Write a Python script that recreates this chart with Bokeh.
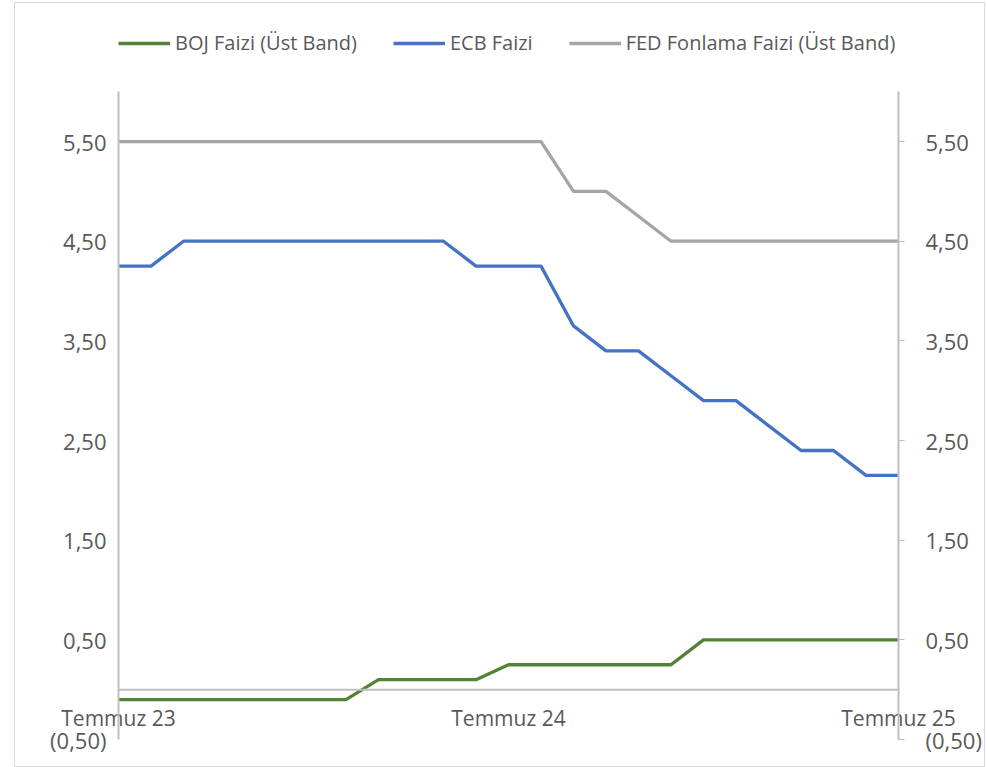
from bokeh.plotting import figure
from bokeh.models import (LinearAxis, FixedTicker, Span, Legend, LegendItem,
                          ColumnDataSource, Range1d)
from bokeh.embed import file_html
from bokeh.resources import INLINE

# ---- data -------------------------------------------------------------
months = ["2023-07", "2023-08", "2023-09", "2023-10", "2023-11", "2023-12",
          "2024-01", "2024-02", "2024-03", "2024-04", "2024-05", "2024-06",
          "2024-07", "2024-08", "2024-09", "2024-10", "2024-11", "2024-12",
          "2025-01", "2025-02", "2025-03", "2025-04", "2025-05", "2025-06",
          "2025-07"]
boj = [-0.10, -0.10, -0.10, -0.10, -0.10, -0.10, -0.10, -0.10,
       0.10, 0.10, 0.10, 0.10,
       0.25, 0.25, 0.25, 0.25, 0.25, 0.25,
       0.50, 0.50, 0.50, 0.50, 0.50, 0.50, 0.50]
ecb = [4.25, 4.25, 4.50, 4.50, 4.50, 4.50, 4.50, 4.50, 4.50, 4.50, 4.50,
       4.25, 4.25, 4.25, 3.65, 3.40, 3.40, 3.15, 2.90, 2.90, 2.65, 2.40,
       2.40, 2.15, 2.15]
fed = [5.50, 5.50, 5.50, 5.50, 5.50, 5.50, 5.50, 5.50, 5.50, 5.50, 5.50,
       5.50, 5.50, 5.50, 5.00, 5.00, 4.75, 4.50, 4.50, 4.50, 4.50, 4.50,
       4.50, 4.50, 4.50]
series_names = ["BOJ Faizi (Üst Band)", "ECB Faizi", "FED Fonlama Faizi (Üst Band)"]
x_tick_months = ["2023-07", "2024-07", "2025-07"]
x_tick_labels = ["Temmuz 23", "Temmuz 24", "Temmuz 25"]
y_ticks = [-0.5, 0.5, 1.5, 2.5, 3.5, 4.5, 5.5]
y_tick_labels = ["(0,50)", "0,50", "1,50", "2,50", "3,50", "4,50", "5,50"]
y_min, y_max = -0.5, 6.0

# ---- styling ----------------------------------------------------------
FONT = "Open Sans"
TXT = "#595959"
AXC = "#BFBFBF"
colors = ["#548235", "#4472C4", "#A5A5A5"]

# plot area: axes span 646 px vertically; 88 px of headroom above for legend
AXIS_PX = 646
HEAD_PX = 88
y_top = y_max + HEAD_PX * (y_max - y_min) / AXIS_PX

x = list(range(len(months)))
src = ColumnDataSource(dict(x=x, boj=boj, ecb=ecb, fed=fed))

p = figure(width=971, height=765, output_backend="svg", toolbar_location=None,
           x_range=Range1d(0, len(months) - 1), y_range=Range1d(y_min, y_top),
           x_axis_location=None, y_axis_location=None,
           min_border_left=103, min_border_right=88,
           min_border_top=0, min_border_bottom=29)
p.outline_line_color = None
p.grid.visible = False
p.styles = {"border": "1px solid #D9D9D9", "box-sizing": "border-box",
            "margin-left": "14px", "margin-top": "2px"}

p.add_layout(Span(location=0, dimension="width", line_color=AXC, line_width=2))

renderers = []
for key, col in zip(["boj", "ecb", "fed"], colors):
    r = p.line("x", key, source=src, line_color=col, line_width=3.3,
               line_join="round")
    renderers.append(r)

overrides = {t: l for t, l in zip(y_ticks, y_tick_labels)}


def y_axis(standoff, tick_out):
    ax = LinearAxis(ticker=FixedTicker(ticks=y_ticks), bounds=(y_min, y_max))
    ax.major_label_overrides = overrides
    ax.axis_line_color = AXC
    ax.axis_line_width = 2
    ax.major_tick_line_color = AXC if tick_out else None
    ax.major_tick_line_width = 1
    ax.major_tick_out = tick_out
    ax.major_tick_in = 0
    ax.minor_tick_line_color = None
    ax.major_label_standoff = standoff
    ax.major_label_text_font = FONT
    ax.major_label_text_font_size = "22px"
    ax.major_label_text_color = TXT
    return ax


p.add_layout(y_axis(12, 0), "left")
p.add_layout(y_axis(21, 6), "right")

# category axis: labels lifted up to sit just below the zero line
tick_x = [months.index(m) for m in x_tick_months]
xa = LinearAxis(ticker=FixedTicker(ticks=tick_x))
xa.major_label_overrides = {t: l for t, l in zip(tick_x, x_tick_labels)}
xa.axis_line_color = None
xa.major_tick_line_color = None
xa.major_tick_out = 0
xa.major_tick_in = 0
xa.minor_tick_line_color = None
xa.major_label_standoff = -36
xa.major_label_text_font = FONT
xa.major_label_text_font_size = "21px"
xa.major_label_text_color = TXT
p.add_layout(xa, "below")

legend = Legend(items=[LegendItem(label=n, renderers=[r])
                       for n, r in zip(series_names, renderers)],
                orientation="horizontal", location=(0, 683))
legend.border_line_alpha = 0
legend.background_fill_alpha = 0
legend.glyph_width = 52
legend.glyph_height = 20
legend.label_standoff = 5
legend.spacing = 36
legend.padding = 0
legend.margin = 0
legend.label_text_font = FONT
legend.label_text_font_size = "20px"
legend.label_text_color = TXT
p.add_layout(legend, "center")

open("out.html", "w").write(file_html(p, INLINE))
